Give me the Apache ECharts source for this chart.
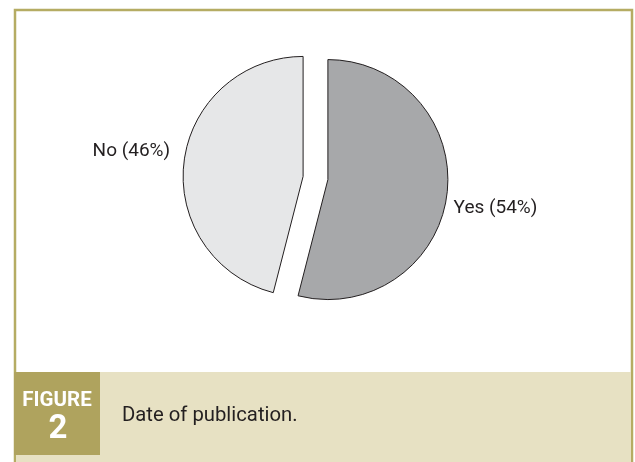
<!DOCTYPE html>
<html>
<head>
<meta charset="utf-8">
<script src="https://cdn.jsdelivr.net/npm/echarts@6/dist/echarts.min.js"></script>
<style>
html,body{margin:0;padding:0;background:#fff;}
#chart{width:635px;height:462px;}
</style>
</head>
<body>
<div id="chart"></div>
<script>
var categories = ['Yes', 'No'];
var values = [54, 46];
var sliceColors = ['#a7a8aa', '#e6e7e8'];
var captionTitle = 'FIGURE';
var captionNumber = '2';
var captionText = 'Date of publication.';

var FONT = 'Roboto, sans-serif';
var chart = echarts.init(document.getElementById('chart'), null, {renderer: 'canvas'});

// per-slice label placement (layout only)
var labelLineLen = [107, 83];
var labelEdge = [110, 105];

var data = categories.map(function (c, i) {
  return {
    name: c,
    value: values[i],
    selected: true,
    itemStyle: {color: sliceColors[i]},
    label: {alignTo: 'edge', edgeDistance: labelEdge[i]},
    labelLine: {show: false, length: labelLineLen[i], length2: 0}
  };
});

var option = {
  animation: false,
  backgroundColor: '#ffffff',
  graphic: [
    {type: 'rect', shape: {x: 15, y: 10, width: 617, height: 452}, style: {fill: 'none', stroke: '#b5ac63', lineWidth: 2.5}, silent: true},
    {type: 'rect', shape: {x: 15, y: 372, width: 617, height: 90}, style: {fill: '#e7e1c3'}, silent: true},
    {type: 'rect', shape: {x: 14, y: 10, width: 2, height: 452}, style: {fill: '#b5ac63'}, silent: true},
    {type: 'rect', shape: {x: 631, y: 10, width: 2, height: 452}, style: {fill: '#b5ac63'}, silent: true},
    {type: 'rect', shape: {x: 14, y: 372, width: 86, height: 83}, style: {fill: '#afa35e'}, silent: true},
    {type: 'text', x: 57, y: 401, style: {text: captionTitle, fill: '#ffffff', font: 'bold 20.5px ' + FONT, align: 'center', verticalAlign: 'middle'}, silent: true},
    {type: 'text', x: 58, y: 430, style: {text: captionNumber, fill: '#ffffff', font: 'bold 33px ' + FONT, align: 'center', verticalAlign: 'middle'}, silent: true},
    {type: 'text', x: 122, y: 416, style: {text: captionText, fill: '#231f20', font: '20.3px ' + FONT, align: 'left', verticalAlign: 'middle'}, silent: true}
  ],
  series: [{
    type: 'pie',
    center: [315.5, 178],
    radius: [0, 120],
    startAngle: 90,
    clockwise: true,
    selectedMode: 'multiple',
    selectedOffset: 12.5,
    avoidLabelOverlap: false,
    emphasis: {disabled: true},
    itemStyle: {borderColor: '#231f20', borderWidth: 1},
    label: {
      show: true,
      position: 'outside',
      formatter: function (p) { return p.name + ' (' + p.value + '%)'; },
      color: '#231f20',
      fontFamily: FONT,
      fontSize: 19
    },
    labelLine: {show: false},
    data: data
  }]
};
chart.setOption(option);
</script>
</body>
</html>
